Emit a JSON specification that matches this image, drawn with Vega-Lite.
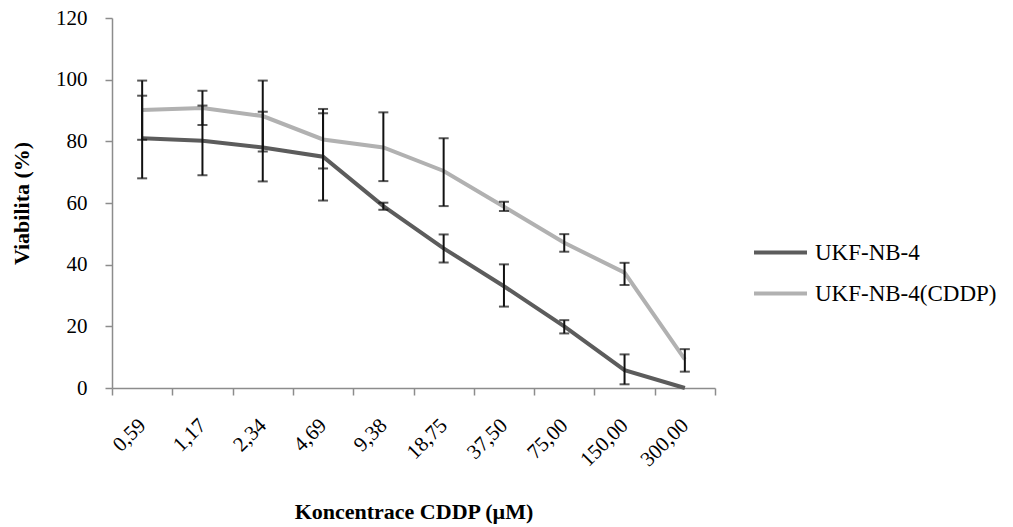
{
  "$schema": "https://vega.github.io/schema/vega-lite/v6.json",
  "autosize": "none",
  "width": 603,
  "height": 370,
  "padding": {"left": 112, "top": 18, "right": 298, "bottom": 139},
  "background": "white",
  "config": {
    "view": {"stroke": null},
    "font": "Liberation Serif",
    "axis": {"domainColor": "#8c8c8c", "tickColor": "#8c8c8c", "grid": false, "labelFont": "Liberation Serif", "titleFont": "Liberation Serif", "labelColor": "#000", "titleColor": "#000", "labelFontSize": 21, "titleFontSize": 22, "titleFontWeight": "bold", "tickSize": 7, "domainWidth": 1.5, "tickWidth": 1.5}
  },
  "data": {
    "values": [
      {"conc": "0,59", "series": "UKF-NB-4", "value": 81, "lo": 68, "hi": 94.8},
      {"conc": "1,17", "series": "UKF-NB-4", "value": 80.2, "lo": 69, "hi": 91.6},
      {"conc": "2,34", "series": "UKF-NB-4", "value": 78, "lo": 67, "hi": 89.6},
      {"conc": "4,69", "series": "UKF-NB-4", "value": 75, "lo": 60.8, "hi": 89.1},
      {"conc": "9,38", "series": "UKF-NB-4", "value": 59, "lo": 57.8, "hi": 60.1},
      {"conc": "18,75", "series": "UKF-NB-4", "value": 45.3, "lo": 40.7, "hi": 49.8},
      {"conc": "37,50", "series": "UKF-NB-4", "value": 33, "lo": 26.4, "hi": 40.1},
      {"conc": "75,00", "series": "UKF-NB-4", "value": 20, "lo": 17.7, "hi": 22},
      {"conc": "150,00", "series": "UKF-NB-4", "value": 5.8, "lo": 1.2, "hi": 10.9},
      {"conc": "300,00", "series": "UKF-NB-4", "value": 0, "lo": null, "hi": null},
      {"conc": "0,59", "series": "UKF-NB-4(CDDP)", "value": 90.2, "lo": 80.5, "hi": 99.7},
      {"conc": "1,17", "series": "UKF-NB-4(CDDP)", "value": 90.8, "lo": 85.3, "hi": 96.4},
      {"conc": "2,34", "series": "UKF-NB-4(CDDP)", "value": 88.2, "lo": 76.7, "hi": 99.7},
      {"conc": "4,69", "series": "UKF-NB-4(CDDP)", "value": 80.6, "lo": 71.2, "hi": 90.5},
      {"conc": "9,38", "series": "UKF-NB-4(CDDP)", "value": 78, "lo": 67.1, "hi": 89.4},
      {"conc": "18,75", "series": "UKF-NB-4(CDDP)", "value": 70.4, "lo": 59, "hi": 81},
      {"conc": "37,50", "series": "UKF-NB-4(CDDP)", "value": 58.8, "lo": 57.4, "hi": 60.4},
      {"conc": "75,00", "series": "UKF-NB-4(CDDP)", "value": 47.1, "lo": 44.2, "hi": 49.9},
      {"conc": "150,00", "series": "UKF-NB-4(CDDP)", "value": 37.4, "lo": 33.4, "hi": 40.6},
      {"conc": "300,00", "series": "UKF-NB-4(CDDP)", "value": 9.3, "lo": 5.3, "hi": 12.6}
    ]
  },
  "encoding": {
    "x": {
      "field": "conc", "type": "ordinal", "sort": null, "bandPosition": 0.5,
      "scale": {"type": "band", "paddingInner": 0, "paddingOuter": 0},
      "axis": {"title": "Koncentrace CDDP (µM)", "labelAngle": -45, "labelAlign": "right", "labelBaseline": "middle", "labelPadding": 27, "tickBand": "extent", "titlePadding": 32}
    }
  },
  "layer": [
    {
      "mark": {"type": "line", "strokeWidth": 4},
      "encoding": {
        "y": {"field": "value", "type": "quantitative", "scale": {"domain": [0, 120]}, "axis": {"title": "Viabilita (%)", "values": [0, 20, 40, 60, 80, 100, 120], "labelPadding": 18, "titlePadding": 22}},
        "color": {"field": "series", "type": "nominal", "scale": {"domain": ["UKF-NB-4", "UKF-NB-4(CDDP)"], "range": ["#5c5c5c", "#b1b1b1"]},
          "legend": {"title": null, "orient": "none", "legendX": 640, "legendY": 206, "symbolType": "stroke", "symbolSize": 2809, "symbolStrokeWidth": 4, "labelFont": "Liberation Serif", "labelFontSize": 23, "labelColor": "#000", "labelLimit": 400, "rowPadding": -12, "labelOffset": 6}}
      }
    },
    {
      "mark": {"type": "rule", "color": "#111", "strokeWidth": 2},
      "encoding": {"y": {"field": "lo", "type": "quantitative"}, "y2": {"field": "hi"}, "detail": {"field": "series"}}
    },
    {
      "mark": {"type": "tick", "color": "#111", "thickness": 2, "size": 10, "orient": "horizontal"},
      "encoding": {"y": {"field": "lo", "type": "quantitative"}, "detail": {"field": "series"}}
    },
    {
      "mark": {"type": "tick", "color": "#111", "thickness": 2, "size": 10, "orient": "horizontal"},
      "encoding": {"y": {"field": "hi", "type": "quantitative"}, "detail": {"field": "series"}}
    }
  ]
}
